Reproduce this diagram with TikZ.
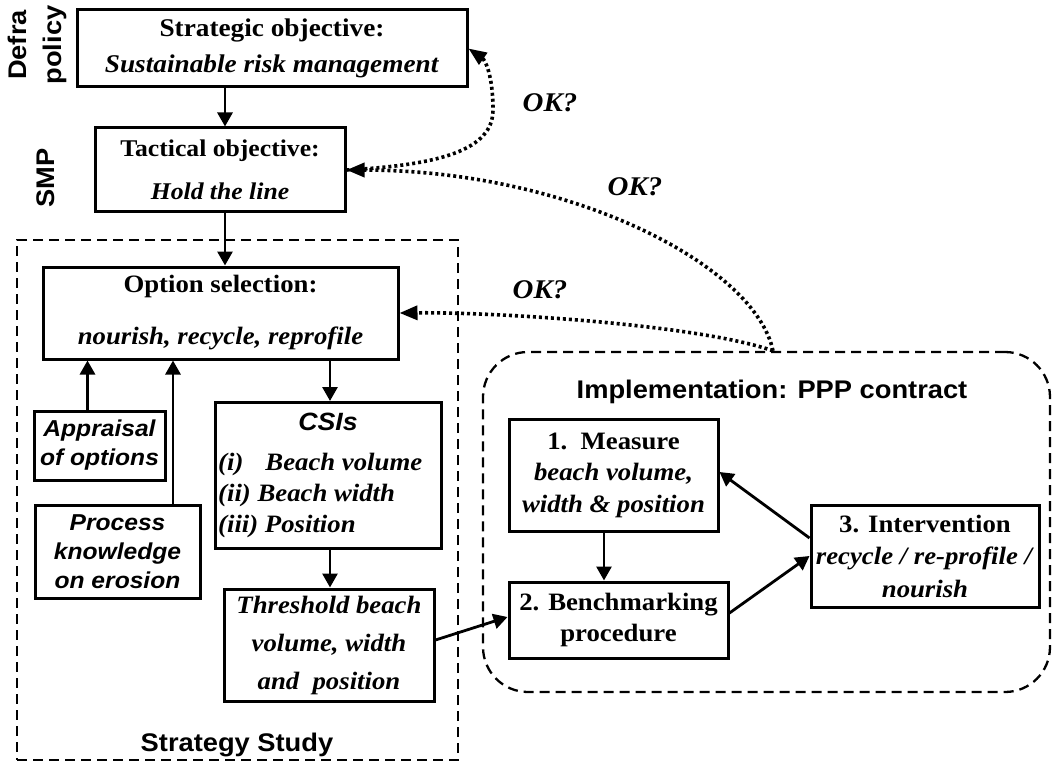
\documentclass[tikz,border=0pt]{standalone}
\usepackage{fontspec}
\setmainfont{Liberation Serif}[FakeStretch=1.07]
\setsansfont{Liberation Sans}[FakeStretch=1.07]
\usetikzlibrary{arrows.meta,calc}
\newcommand\myfs[2]{\fontsize{#1}{#2}\selectfont}
\begin{document}
\begin{tikzpicture}[x=1pt,y=-1pt,
  box/.style={draw, line width=3pt, inner sep=0pt, align=center},
  arr/.style={line width=2.8pt, -{Triangle[length=14pt,width=15pt]}},
  dotarr/.style={line width=3.6pt, dash pattern=on 3pt off 3pt, -{Triangle[length=18pt,width=14pt]}},
  frame/.style={draw, line width=2.3pt, dash pattern=on 10pt off 6pt, inner sep=0pt},
  serifb/.style={font=\myfs{25}{#1}\bfseries},
  sansbi/.style={font=\sffamily\myfs{23}{#1}\bfseries\itshape},
  lab/.style={font=\sffamily\myfs{25.5}{35}\bfseries, inner sep=0pt},
  ok/.style={font=\myfs{27}{30}\bfseries\itshape, inner sep=0pt}]
\useasboundingbox (0,0) rectangle (1053,765);

% frames
\node[frame, minimum width=441pt, minimum height=520pt] (strategy) at (237.5,500) {};
\node[frame, rounded corners=45pt, minimum width=567pt, minimum height=340pt] (impl) at (766.5,522) {};

% boxes
\node[box, minimum width=390pt, minimum height=77pt, font=\myfs{25.5}{36}\bfseries] (strat) at (272,48.5) {Strategic objective:\\\textit{Sustainable risk management}};
\node[box, minimum width=250pt, minimum height=84pt, font=\myfs{24}{43}\bfseries] (tact) at (220,170) {Tactical objective:\\\textit{Hold the line}};
\node[box, minimum width=355pt, minimum height=92pt, font=\myfs{25}{52}\bfseries] (opt) at (220.5,313) {Option selection:\\\textit{nourish, recycle, reprofile}};
\node[box, minimum width=131pt, minimum height=69pt, sansbi=29] (appr) at (99.5,445.5) {Appraisal\\of options};
\node[box, minimum width=165pt, minimum height=93pt, sansbi=29] (proc) at (117.5,551.5) {Process\\knowledge\\on erosion};
\node[box, minimum width=226pt, minimum height=146pt] (csis) at (328,475.5) {};
\node[font=\sffamily\myfs{25}{30}\bfseries\itshape, inner sep=0pt] (csisT) at (328,422) {CSIs};
\node[anchor=north west, inner sep=0pt, align=left, font=\myfs{25}{31}\bfseries\itshape] (csisL) at (218,453) {(i)\hspace{22pt}Beach volume\\(ii) Beach width\\(iii) Position};
\node[box, minimum width=210pt, minimum height=112pt, font=\myfs{25}{38}\bfseries\itshape] (thr) at (329,645) {Threshold beach\\volume, width\\and\ \ position};
\node[box, minimum width=209pt, minimum height=112pt, serifb=31.5] (meas) at (613.5,475) {1.\ \ Measure\\\textit{beach volume,}\\\textit{width \& position}};
\node[box, minimum width=219pt, minimum height=76pt, serifb=31] (bench) at (618.5,620) {2. Benchmarking\\procedure};
\node[box, minimum width=228pt, minimum height=102pt, serifb=32.5] (interv) at (925,556) {3. Intervention\\\textit{recycle / re-profile /}\\\textit{nourish}};

% labels
\node[lab] (ss) at (237,745) {Strategy Study};
\node[lab] (impT) at (772,392) {Implementation: PPP contract};
\node[lab, rotate=90, align=center] (defra) at (37,45) {Defra\\policy};
\node[lab, rotate=90] (smp) at (46,178) {SMP};
\node[ok] (ok1) at (550,103) {OK?};
\node[ok] (ok2) at (635,187) {OK?};
\node[ok] (ok3) at (540,290) {OK?};

% solid arrows
\draw[arr] ([xshift=5pt]tact.north |- strat.south) -- ([xshift=5pt]tact.north);
\draw[arr] ([xshift=5pt]tact.south) -- ([xshift=5pt]tact.south |- opt.north);
\draw[arr] ([xshift=-12pt]appr.north) -- ([xshift=-12pt]appr.north |- opt.south);
\draw[arr] ([xshift=55.5pt]proc.north) -- ([xshift=55.5pt]proc.north |- opt.south);
\draw[arr] ([xshift=2pt]csis.north |- opt.south) -- ([xshift=2pt]csis.north);
\draw[arr] ([xshift=2pt]csis.south) -- ([xshift=2pt]csis.south |- thr.north);
\draw[arr] ([yshift=5pt]thr.east) -- ([yshift=3pt]bench.west);
\draw[arr] ([xshift=-9.5pt]meas.south) -- ([xshift=-9.5pt]meas.south |- bench.north);
\draw[arr] ([yshift=7pt]bench.east) -- (interv.west);
\draw[arr] ([yshift=18pt]interv.west) -- ([yshift=3pt]meas.east);

% dotted feedback
\coordinate (top) at ([xshift=6.5pt]impl.north);
\draw[dotarr] (top) .. controls (700,325) and (500,312) .. (opt.east);
\draw[dotarr] (top) .. controls (755,265) and (570,170) .. (tact.east);
\draw[dotarr] (tact.east) .. controls (440,165) and (493,150) .. (493,110) .. controls (493,75) and (485,60) .. (strat.east);
\end{tikzpicture}
\end{document}
